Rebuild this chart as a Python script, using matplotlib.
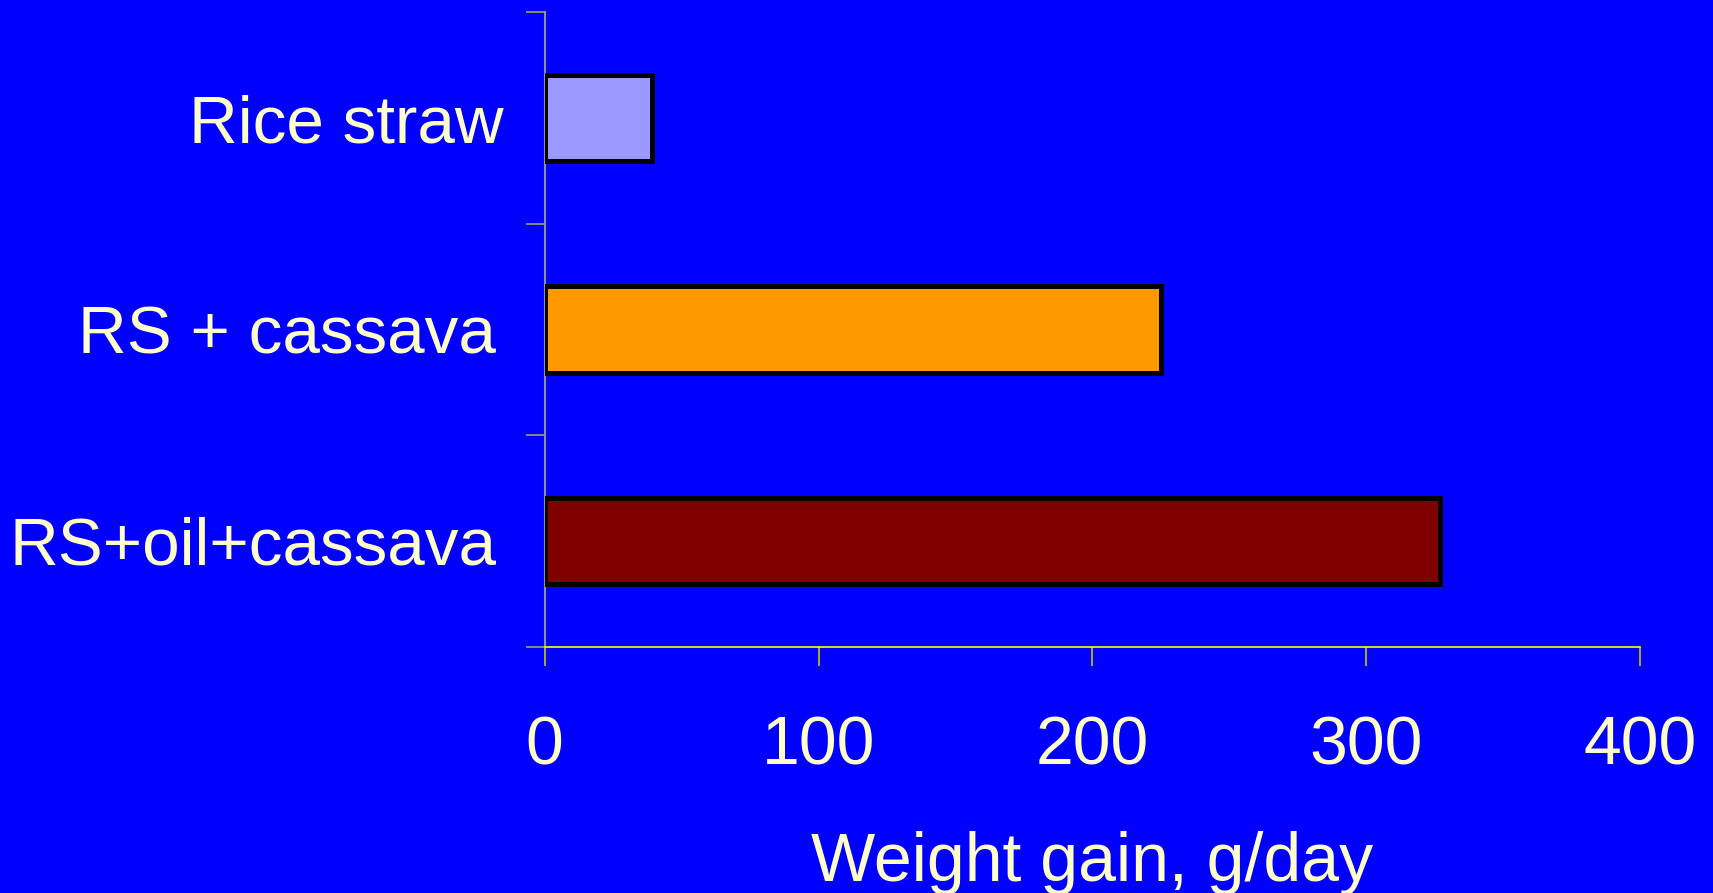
import matplotlib
matplotlib.use("Agg")
import matplotlib.pyplot as plt
from matplotlib.transforms import ScaledTranslation

# data
categories = ["Rice straw", "RS + cassava", "RS+oil+cassava"]
weight_gain = [39, 225, 327]
bar_colors = ["#9999FF", "#FF9900", "#800000"]
x_ticks = [0, 100, 200, 300, 400]

BG = "#0000FF"
TXT = "#FFFFCC"
plt.rcParams["font.family"] = ["Liberation Sans", "DejaVu Sans"]

fig = plt.figure(figsize=(17.13, 8.93), dpi=100, facecolor=BG)
ax_left, ax_right = 0.318, 0.9574
ax = fig.add_axes([ax_left, 0.2758, ax_right - ax_left, 0.9862 - 0.2758])
ax.set_facecolor(BG)

pos = list(range(len(categories)))
ax.barh(pos, weight_gain, height=0.41, color=bar_colors,
        edgecolor="black", linewidth=3.6, zorder=3)

ax.set_xlim(0, 400)
ax.set_ylim(len(categories) - 0.5, -0.5)

# category labels on major ticks (no tick marks), boundary ticks as minor
ax.set_yticks(pos)
ax.set_yticklabels(categories)
ax.set_yticks([p - 0.5 for p in pos] + [pos[-1] + 0.5], minor=True)
ax.tick_params(axis="y", which="major", length=0, pad=35,
               labelsize=48.5, labelcolor=TXT)
ax.tick_params(axis="y", which="minor", length=14, width=1.2,
               color="#A0A060", direction="out")
# first label sits a little further right in the original
lbl = ax.get_yticklabels()[0]
lbl.set_transform(lbl.get_transform() + ScaledTranslation(5 / 72, 0, fig.dpi_scale_trans))

ax.set_xticks(x_ticks)
ax.set_xticklabels([str(t) for t in x_ticks])
ax.tick_params(axis="x", length=14, width=1.2, color="#C8C800",
               direction="out", pad=35, labelsize=49, labelcolor=TXT)

for s in ["top", "right"]:
    ax.spines[s].set_visible(False)
ax.spines["left"].set_color("#909090")
ax.spines["left"].set_linewidth(1.5)
ax.spines["bottom"].set_color("#FFFF00")
ax.spines["bottom"].set_linewidth(1.2)

fig.text((ax_left + ax_right) / 2, 0.0134, "Weight gain, g/day", color=TXT,
         fontsize=49, ha="center", va="baseline")

fig.savefig("out.png", dpi=100, facecolor=BG)
plt.close(fig)
